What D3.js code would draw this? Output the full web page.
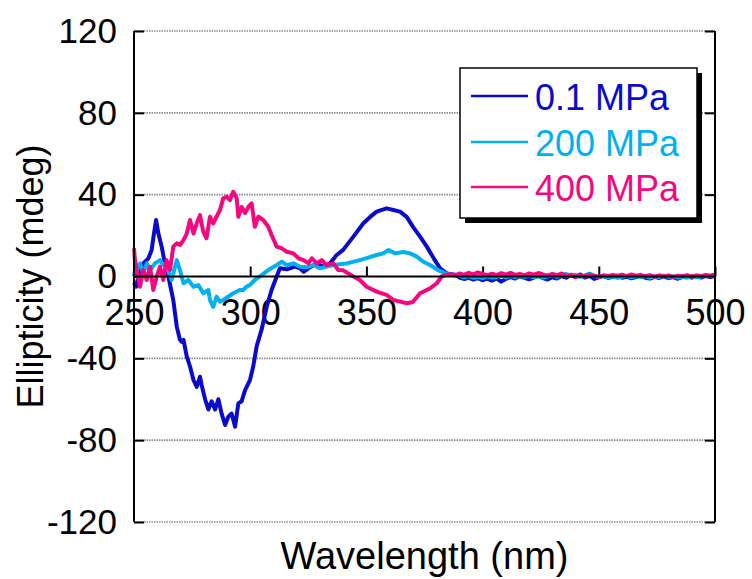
<!DOCTYPE html>
<html>
<head>
<meta charset="utf-8">
<script src="https://cdn.jsdelivr.net/npm/d3@7"></script>
<style>
  html, body { margin: 0; padding: 0; background: #fff; }
  svg { display: block; font-family: "Liberation Sans", Arial, sans-serif; }
</style>
</head>
<body>
<svg id="chart" width="752" height="579"></svg>
<script>
// ---------- data ----------
const seriesNames = ["0.1 MPa", "200 MPa", "400 MPa"];
const seriesColors = ["#0A0ACC", "#00B0F0", "#F5077F"];

const wlBlue = [250,250.9,251.9,254,256.2,257.6,258.6,259.5,260.5,261.9,263.3,264.8,266,266.9,268.4,269.8,270.6,271.3,272.7,274.1,275.6,277,278.4,279.1,280.6,282,283.4,284.9,286.3,287.7,289.2,290.6,292,293.5,294.9,296.3,297.8,299.9,301.3,302.8,304.9,307.1,309.2,311.4,312.8,315.7,319.3,321.4,323,325,328.6,331.5,334.3,337.2,340,344.4,348.7,351.5,354.4,358.7,361.6,364.5,367.4,370.2,373.1,376,378.9,381.7,384.6,388.9,390,392,394,396,398,400,402,404,406,408,410,412,414,416,418,420,422,424,426,428,430,432,434,436,438,440,442,444,446,448,450,452,454,456,458,460,462,464,466,468,470,472,474,476,478,480,482,484,486,488,490,492,494,496,498,500];
const valBlue = [-3,-5,0,6.4,8.9,13,21,27.6,21,14.6,6.4,0,-6.6,-11.5,-24.5,-31,-32,-31,-39,-44,-50.6,-54,-49,-53,-60,-65,-61,-65,-60,-67,-72.6,-68.5,-67,-73.4,-62,-61,-55.5,-50.6,-44,-34,-26,-14.8,-6.6,0,4,3.5,4.8,4,2.3,4,6.4,4.8,6.4,10.5,13,19.5,26,29,31.7,33.3,32.5,31.7,29,24,19.5,14.6,9,4,1.5,0.7,-0.5,-1.2,-0.6,-1.5,-0.8,-1.8,-1.0,-2.0,-0.9,-2.5,-1.2,-0.3,-1.0,0.2,-0.7,-1.4,-0.5,0.3,-0.8,-1.5,-0.4,-1.0,0.2,-0.6,0.8,-0.3,1.0,-0.5,0.3,-1.2,-0.4,0.2,-0.7,-0.2,0.4,-0.6,-0.1,-0.9,-0.3,0.2,-0.6,-1.0,-0.2,-0.7,0.1,-0.8,-0.3,-1.1,-0.2,0.3,-0.6,0.4,-0.5,0.2,-0.3,0.3];

const wlCyan = [250,250.4,252.6,254,255.5,256.9,259,261.2,262.6,264,266.2,268.4,269.8,271.3,273.4,275.6,277.7,279.8,282,282.7,284.1,285.5,287,288.4,290.5,292.7,295.5,297,298.4,300,302,305,307.8,311.4,313.6,315.7,318.6,321.4,324.3,327.2,330,332.9,335.7,341.5,347.2,350.1,354.4,357.3,359.5,362.4,365.9,368.8,371.7,374.5,377.4,380.3,383.2,387.5,390,392,394,396,398,400,402,404,406,408,410,412,414,416,418,420,422,424,426,428,430,432,434,436,438,440,442,444,446,448,450,452,454,456,458,460,462,464,466,468,470,472,474,476,478,480,482,484,486,488,490,492,494,496,498,500];
const valCyan = [0,3,6.4,1.5,6.4,3,6.4,8,5.6,4.8,-1.7,8,3,-3.3,-1.7,-5,-4.2,-8.2,-6.6,-11.5,-14.8,-9.9,-12.3,-11.5,-9.9,-8.2,-6.6,-6.6,-5,-4,-1.7,0.7,3.2,5.6,7.2,5.6,6.4,4.8,4.5,5.6,4,4.8,5.6,6.4,8,9,10.5,11.3,13,11.3,12,11.3,9.7,7.2,5.6,3.5,1.9,0.7,0.3,-0.4,0.2,-0.6,-0.2,-0.8,0.1,-0.5,-0.2,0.4,-0.4,0.2,-0.3,0.5,-0.2,0.3,-0.4,0.2,-0.5,0.1,0.4,-0.2,0.6,1.2,0.3,0.8,-0.2,0.5,1.4,0.4,-0.3,0.2,-0.5,0.1,-0.6,-0.2,0.3,-0.4,0.1,-0.3,0.2,-0.5,0.0,-0.3,0.4,-0.2,0.1,-0.5,-0.1,-0.6,0.2,-0.4,0.0,0.5,0.2,0.6];

const wlPink = [250,250.4,251.4,252.6,254,255.5,256.9,258.3,259.8,261.2,262.6,264,265.5,266.9,268.4,269.8,271.3,272.7,274.1,275.6,277,278.4,279.8,281.2,282.7,284.1,285.5,287,288.4,289.9,291.3,292.7,294.2,294.9,296.3,297.8,299.2,300.6,302,303.5,305.6,307.8,309.2,311.4,313.6,315.7,318.6,320.8,323,325.1,326.5,328.7,330.8,332.9,335.8,337.9,340,344.4,347.2,350.1,354.4,358.7,361.6,364.5,367.4,370,373.1,377.4,380.3,382.4,384,386,388,390,392,394,396,398,400,402,404,406,408,410,412,414,416,418,420,422,424,426,428,430,432,434,436,438,440,442,444,446,448,450,452,454,456,458,460,462,464,466,468,470,472,474,476,478,480,482,484,486,488,490,492,494,496,498,500];
const valPink = [13.8,8,1.5,-5,3.2,-1.7,4.8,-6.6,0,4.8,-1.7,8,3.2,14.6,16.2,15.4,17.8,21,27.6,21,26,30,21.9,18.7,29.2,26,29.2,32.5,38.2,39,37.4,41.4,38.2,29.2,34,31,34,35.8,24.3,29.2,27.6,24.3,20.3,14.6,13.8,12.1,11.3,8.9,8,6.4,8.9,6.4,8,5.6,6.4,3.2,3,0,-1.7,-5,-7.4,-9,-11.5,-12.3,-13.1,-12.5,-8.2,-5.8,-3.3,0,0.6,1.2,0.4,1.5,0.8,1.8,1.0,2.0,1.2,0.6,1.4,0.7,1.6,0.9,1.8,0.8,1.3,0.5,1.5,0.9,1.7,1.0,0.4,1.3,0.6,1.5,0.2,0.8,-0.2,0.5,0.1,0.9,0.3,-0.2,0.6,0.2,0.8,0.3,0.9,0.2,1.0,0.4,0.8,0.1,0.7,-0.2,0.6,0.0,0.5,-0.3,0.4,0.1,0.7,-0.1,0.5,0.2,0.8,0.4,1.0];

const xTicks = [250, 300, 350, 400, 450, 500];
const yTicks = [-120, -80, -40, 0, 40, 80, 120];
const gridValues = [-120, -80, -40, 40, 80, 120];
const xTitle = "Wavelength (nm)";
const yTitle = "Ellipticity (mdeg)";

// ---------- drawing ----------
const svg = d3.select("#chart");
const pL = 134, pR = 715, pT = 31, pB = 522;
const x = d3.scaleLinear().domain([250, 500]).range([pL, pR]);
const y = d3.scaleLinear().domain([-120, 120]).range([pB, pT]);
const FONT = "Liberation Sans, Arial, sans-serif";
const plainFmt = d => String(d); // ASCII hyphen-minus as in the original

// grid
svg.append("g").selectAll("line").data(gridValues).join("line")
  .attr("x1", pL).attr("x2", pR)
  .attr("y1", d => y(d)).attr("y2", d => y(d))
  .attr("stroke", "#8c8c8c").attr("stroke-width", 1.6)
  .attr("stroke-dasharray", "1.5,1");

// y tick labels (left axis)
const yAxis = d3.axisLeft(y).tickValues(yTicks).tickFormat(plainFmt)
  .tickSizeInner(-10).tickSizeOuter(0).tickPadding(17);
const gy = svg.append("g").attr("transform", `translate(${pL},0)`).call(yAxis);
gy.selectAll("text").attr("font-size", 35).attr("fill", "#000").attr("font-family", FONT);
gy.selectAll("line").attr("stroke", "#000").attr("stroke-width", 2);
gy.select(".domain").remove();

// right axis ticks
const yAxisR = d3.axisRight(y).tickValues(yTicks).tickSizeInner(-10).tickSizeOuter(0).tickFormat("");
const gyr = svg.append("g").attr("transform", `translate(${pR},0)`).call(yAxisR);
gyr.selectAll("line").attr("stroke", "#000").attr("stroke-width", 2);
gyr.select(".domain").remove();

// x axis along zero
const xAxis = d3.axisBottom(x).tickValues(xTicks).tickFormat(plainFmt)
  .tickSizeInner(-10).tickSizeOuter(0).tickPadding(23);
const gx = svg.append("g").attr("transform", `translate(0,${y(0)})`).call(xAxis);
gx.selectAll("text").attr("font-size", 36).attr("fill", "#000").attr("font-family", FONT);
gx.selectAll("line").attr("stroke", "#000").attr("stroke-width", 2);
gx.select(".domain").remove();

// data lines
const line = d3.line().x(d => x(d[0])).y(d => y(d[1])).curve(d3.curveLinear);
const series = [
  d3.zip(wlBlue, valBlue),
  d3.zip(wlCyan, valCyan),
  d3.zip(wlPink, valPink)
];
svg.append("g").selectAll("path").data(series).join("path")
  .attr("d", line)
  .attr("fill", "none")
  .attr("stroke", (d, i) => seriesColors[i])
  .attr("stroke-width", 4)
  .attr("stroke-linejoin", "round");

// zero line + vertical axes on top
svg.append("line").attr("x1", pL).attr("x2", pR).attr("y1", y(0)).attr("y2", y(0))
  .attr("stroke", "#000").attr("stroke-width", 2);
svg.append("line").attr("x1", pL).attr("x2", pL).attr("y1", pT).attr("y2", pB)
  .attr("stroke", "#000").attr("stroke-width", 2);
svg.append("line").attr("x1", pR).attr("x2", pR).attr("y1", pT).attr("y2", pB)
  .attr("stroke", "#000").attr("stroke-width", 2);

// axis titles
svg.append("text").attr("x", (pL + pR) / 2).attr("y", 569)
  .attr("text-anchor", "middle").attr("font-size", 38).attr("fill", "#000").text(xTitle);
svg.append("text").attr("transform", `translate(43,${(pT + pB) / 2}) rotate(-90)`)
  .attr("text-anchor", "middle").attr("font-size", 36).attr("fill", "#000").text(yTitle);

// legend
const lg = svg.append("g");
lg.append("rect").attr("x", 465).attr("y", 73).attr("width", 237).attr("height", 150).attr("fill", "#000");
lg.append("rect").attr("x", 460).attr("y", 68).attr("width", 237).attr("height", 150)
  .attr("fill", "#fff").attr("stroke", "#000").attr("stroke-width", 1.5);
const legendY = [96, 142, 187];
seriesNames.forEach((name, i) => {
  lg.append("line").attr("x1", 471).attr("x2", 528).attr("y1", legendY[i]).attr("y2", legendY[i])
    .attr("stroke", seriesColors[i]).attr("stroke-width", 2.5);
  lg.append("text").attr("x", 535).attr("y", legendY[i] + 14)
    .attr("font-size", 36).attr("fill", seriesColors[i]).text(name);
});
</script>
</body>
</html>
